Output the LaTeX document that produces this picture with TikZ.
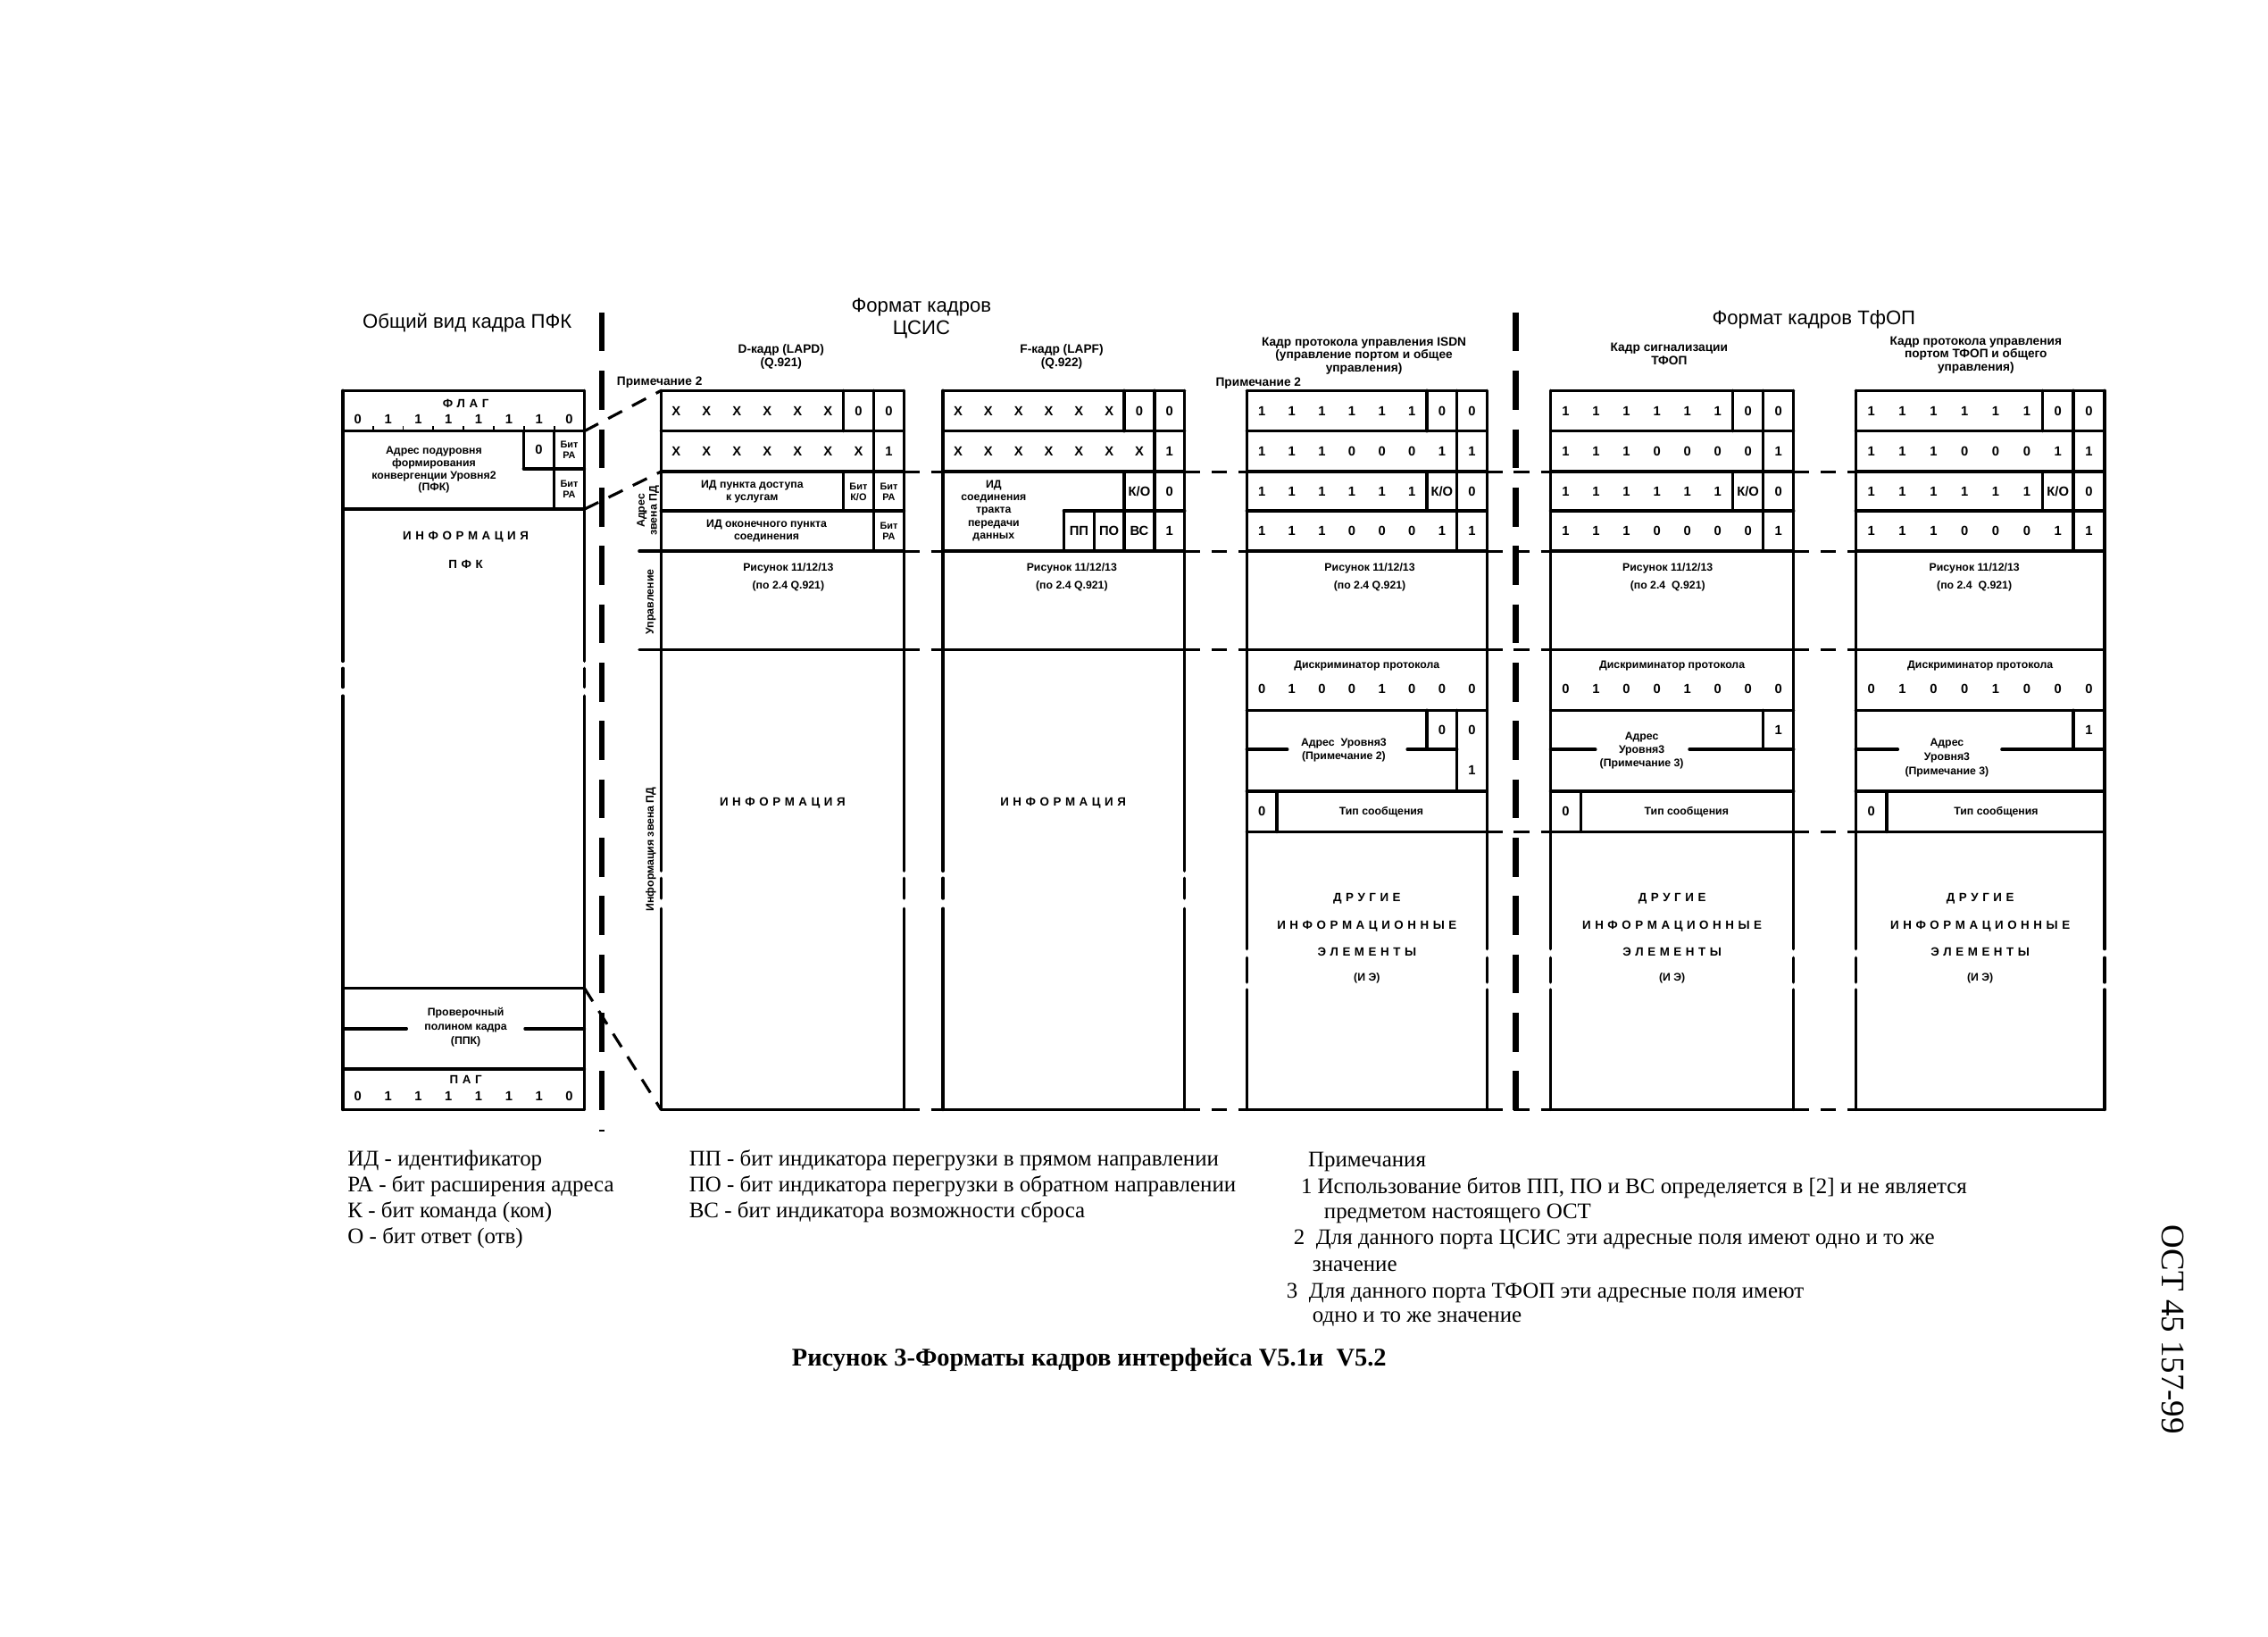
\documentclass[tikz,border=0pt]{standalone}
\usepackage{fontspec}
\setmainfont{Liberation Serif}
\newfontfamily\arialf{Liberation Sans}
\newcommand\fBit{\arialf\bfseries\fontsize{4.2}{4.6}\selectfont}
\newcommand\fSm{\arialf\bfseries\fontsize{3.5}{3.9}\selectfont}
\newcommand\fRs{\arialf\bfseries\fontsize{3.5}{5.5}\selectfont}
\newcommand\fTiny{\arialf\bfseries\fontsize{3.1}{3.5}\selectfont}
\newcommand\fHd{\arialf\bfseries\fontsize{3.9}{4.15}\selectfont}
\newcommand\fTt{\arialf\fontsize{6.3}{7}\selectfont}
\newcommand\fSp{\arialf\bfseries\fontsize{3.8}{4}\selectfont}
\newcommand\fLg{\rmfamily\fontsize{7.1}{8}\selectfont}
\newcommand\fCp{\rmfamily\bfseries\fontsize{8.1}{9}\selectfont}
\makeatletter
\newcommand\sptext[1]{\sptx@first#1\relax}
\def\sptx@first#1{#1\sptx@}
\def\sptx@#1{\ifx#1\relax\else\kern1.3pt#1\expandafter\sptx@\fi}
\makeatother
% frame outline: x0, x1, gap1 start, gap1 end, gap2 start, gap2 end
\newcommand\frm[6]{%
  \foreach \yy in {270,298,326,381,449,767} {\draw[boxline] (#1,\yy) -- (#2,\yy);}
  \foreach \xx in {#1,#2} {\draw[boxline] (\xx,270) -- (\xx,#3) (\xx,#4) -- (\xx,#5) (\xx,#6) -- (\xx,767);}
}
% vertical cell line at bit boundary k
\newcommand\kl[5]{\draw[boxline] ({#1+#3*(#2-#1)/8},#4) -- ({#1+#3*(#2-#1)/8},#5);}
% horizontal line between bit boundaries
\newcommand\hl[5]{\draw[boxline] ({#1+#3*(#2-#1)/8},#5) -- ({#1+#4*(#2-#1)/8},#5);}
% text at bit position k
\newcommand\kt[6]{\node[#6] at ({#1+#3*(#2-#1)/8},#4) {#5};}
% row of bits
\newcommand\bitrow[4]{\foreach \bb [count=\ii] in {#4} {\node[bit] (b#1r#3c\ii) at ({#1+(\ii-0.5)*(#2-#1)/8},#3) {\bb};}}
\begin{document}
\begin{tikzpicture}[x=0.0162cm,y=-0.0162cm,
  boxline/.style={line width=1pt,line cap=round},
  conn/.style={line width=0.9pt,dash pattern=on 5pt off 3.6pt},
  sepline/.style={line width=1.9pt,dash pattern=on 12.4pt off 6.2pt},
  bit/.style={font=\fBit,inner sep=0pt},
  sm/.style={font=\fSm,inner sep=0pt,align=center},
  rs/.style={font=\fRs,inner sep=0pt,align=center},
  tinytxt/.style={font=\fTiny,inner sep=0pt,align=center},
  hd/.style={font=\fHd,inner sep=0pt,align=center},
  tt/.style={font=\fTt,inner sep=0pt,align=center},
  spc/.style={font=\fSp,inner sep=0pt},
  leg/.style={font=\fLg,inner sep=0pt,anchor=west},
]
\useasboundingbox (0,0) rectangle (1568,1131);

% ---------- titles ----------
\node[tt] (t1) at (323,223) {Общий вид кадра ПФК};
\node[tt] (t2) at (637,220) {Формат кадров\\ЦСИС};
\node[tt] (t3) at (1254,221) {Формат кадров ТфОП};
\node[hd] (hD) at (540,246.5) {D-кадр (LAPD)\\(Q.921)};
\node[hd] (hF) at (734,246.5) {F-кадр (LAPF)\\(Q.922)};
\node[hd] (hI) at (943,246) {Кадр протокола управления ISDN\\(управление портом и общее\\управления)};
\node[hd] (hS) at (1154,244.5) {Кадр сигнализации\\ТФОП};
\node[hd] (hT) at (1366,245.5) {Кадр протокола управления\\портом ТФОП и общего\\управления)};
\node[hd] (n2a) at (456,264) {Примечание 2};
\node[hd] (n2b) at (870,265) {Примечание 2};

% ---------- separators ----------
\coordinate (s1a) at (416,216); \coordinate (s1b) at (416,782);
\coordinate (s2a) at (1048,216); \coordinate (s2b) at (1048,769);
\draw[sepline] (s1a) -- (s1b);
\draw[sepline] (s2a) -- (s2b);

% ---------- PFK frame ----------
\foreach \yy in {270,298,352,683,739,767} {\draw[boxline] (237,\yy) -- (404,\yy);}
\draw[boxline] (237,711) -- (281,711) (363,711) -- (404,711);
\foreach \xx in {237,404} {\draw[boxline] (\xx,270) -- (\xx,457) (\xx,462) -- (\xx,475) (\xx,481) -- (\xx,767);}
\draw[boxline] (362,298) -- (362,324) (383,298) -- (383,352) (362,324) -- (404,324);
\foreach \ii in {1,...,7} {\draw[line width=0.5pt] ({237+\ii*20.875},298) -- ({237+\ii*20.875},294.5);}
\node[spc] (pflag) at (322,279) {\sptext{ФЛАГ}};
\bitrow{237}{404}{290}{0,1,1,1,1,1,1,0}
\node[sm] (padr) at (300,325) {Адрес подуровня\\формирования\\конвергенции Уровня2\\(ПФК)};
\node[bit] (p0) at (372.5,311) {0};
\node[tinytxt] (pra1) at (393.5,311) {Бит\\РА};
\node[tinytxt] (pra2) at (393.5,338) {Бит\\РА};
\node[spc] (pinf) at (322,371) {\sptext{ИНФОРМАЦИЯ}};
\node[spc] (ppfk) at (322,390) {\sptext{ПФК}};
\node[sm,font=\arialf\bfseries\fontsize{3.5}{4.5}\selectfont] (pppk) at (322,710) {Проверочный\\полином кадра\\(ППК)};
\node[spc] (ppag) at (322,746) {\sptext{ПАГ}};
\bitrow{237}{404}{758}{0,1,1,1,1,1,1,0}

% ---------- frame outlines ----------
\frm{457}{625}{602}{607}{621}{628}
\frm{652}{819}{602}{607}{621}{628}
\frm{862}{1028}{656}{662}{679}{684}
\frm{1072}{1240}{656}{662}{679}{684}
\frm{1283}{1455}{656}{662}{679}{684}

% ---------- D frame (LAPD) ----------
\hl{457}{625}{0}{8}{353}
\kl{457}{625}{6}{270}{298} \kl{457}{625}{6}{326}{353} \kl{457}{625}{7}{270}{381}
\bitrow{457}{625}{284}{X,X,X,X,X,X,0,0}
\bitrow{457}{625}{312}{X,X,X,X,X,X,X,1}
\node[sm] (d3) at (520,340) {ИД пункта доступа\\к услугам};
\kt{457}{625}{6.5}{340}{Бит\\К/О}{tinytxt}
\kt{457}{625}{7.5}{340}{Бит\\РА}{tinytxt}
\node[sm] (d4) at (530,367) {ИД оконечного пункта\\соединения};
\kt{457}{625}{7.5}{367}{Бит\\РА}{tinytxt}
\node[rs] (d5) at (545,399) {Рисунок 11/12/13\\(по 2.4 Q.921)};
\node[spc] (dinf) at (541,555) {\sptext{ИНФОРМАЦИЯ}};
\draw[boxline] (442,381) -- (457,381) (442,449) -- (457,449);
\node[sm,rotate=90] (la) at (448,353) {Адрес\\звена ПД};
\node[sm,rotate=90] (lu) at (450,416) {Управление};
\node[sm,rotate=90] (li) at (450,587) {Информация звена ПД};

% ---------- F frame (LAPF) ----------
\hl{652}{819}{4}{8}{353}
\kl{652}{819}{6}{270}{298} \kl{652}{819}{6}{326}{381} \kl{652}{819}{7}{270}{381}
\kl{652}{819}{4}{353}{381} \kl{652}{819}{5}{353}{381}
\bitrow{652}{819}{284}{X,X,X,X,X,X,0,0}
\bitrow{652}{819}{312}{X,X,X,X,X,X,X,1}
\kt{652}{819}{6.5}{340}{К/О}{bit}
\kt{652}{819}{7.5}{340}{0}{bit}
\kt{652}{819}{4.5}{367}{ПП}{bit}
\kt{652}{819}{5.5}{367}{ПО}{bit}
\kt{652}{819}{6.5}{367}{ВС}{bit}
\kt{652}{819}{7.5}{367}{1}{bit}
\node[sm,font=\arialf\bfseries\fontsize{3.5}{4.1}\selectfont] (f3) at (687,353) {ИД\\соединения\\тракта\\передачи\\данных};
\node[rs] (f5) at (741,399) {Рисунок 11/12/13\\(по 2.4 Q.921)};
\node[spc] (finf) at (735,555) {\sptext{ИНФОРМАЦИЯ}};

% ---------- ISDN control frame ----------
\hl{862}{1028}{0}{8}{353}
\kl{862}{1028}{6}{270}{298} \kl{862}{1028}{6}{326}{353} \kl{862}{1028}{7}{270}{381}
\bitrow{862}{1028}{284}{1,1,1,1,1,1,0,0}
\bitrow{862}{1028}{312}{1,1,1,0,0,0,1,1}
\bitrow{862}{1028}{340}{1,1,1,1,1,1,К/О,0}
\bitrow{862}{1028}{367}{1,1,1,0,0,0,1,1}
\node[rs] (i5) at (947,399) {Рисунок 11/12/13\\(по 2.4 Q.921)};
\hl{862}{1028}{0}{8}{491} \hl{862}{1028}{0}{8}{547} \hl{862}{1028}{0}{8}{575}
\node[sm] (idp) at (945,460) {Дискриминатор протокола};
\bitrow{862}{1028}{476}{0,1,0,0,1,0,0,0}
\kl{862}{1028}{6}{491}{518} \kl{862}{1028}{7}{491}{547}
\draw[boxline] (862,518) -- (890,518) (973,518) -- (1007.25,518);
\kt{862}{1028}{6.5}{504.5}{0}{bit}
\kt{862}{1028}{7.5}{504.5}{0}{bit}
\kt{862}{1028}{7.5}{532.5}{1}{bit}
\node[sm,font=\arialf\bfseries\fontsize{3.5}{4.1}\selectfont] (iad) at (929,518.5) {Адрес\ \ Уровня3\\(Примечание 2)};
\kl{862}{1028}{1}{547}{575}
\kt{862}{1028}{0.5}{561}{0}{bit}
\node[sm] (ity) at (955,561) {Тип сообщения};
\node[spc] (io1) at (945,621) {\sptext{ДРУГИЕ}};
\node[spc] (io2) at (945,640) {\sptext{ИНФОРМАЦИОННЫЕ}};
\node[spc] (io3) at (945,658) {\sptext{ЭЛЕМЕНТЫ}};
\node[sm] (io4) at (945,676) {(И Э)};

% ---------- PSTN signalling frame ----------
\hl{1072}{1240}{0}{8}{353}
\kl{1072}{1240}{6}{270}{298} \kl{1072}{1240}{6}{326}{353} \kl{1072}{1240}{7}{270}{381}
\bitrow{1072}{1240}{284}{1,1,1,1,1,1,0,0}
\bitrow{1072}{1240}{312}{1,1,1,0,0,0,0,1}
\bitrow{1072}{1240}{340}{1,1,1,1,1,1,К/О,0}
\bitrow{1072}{1240}{367}{1,1,1,0,0,0,0,1}
\node[rs] (s5) at (1153,399) {Рисунок 11/12/13\\(по 2.4\ \ Q.921)};
\hl{1072}{1240}{0}{8}{491} \hl{1072}{1240}{0}{8}{547} \hl{1072}{1240}{0}{8}{575}
\node[sm] (sdp) at (1156,460) {Дискриминатор протокола};
\bitrow{1072}{1240}{476}{0,1,0,0,1,0,0,0}
\kl{1072}{1240}{7}{491}{518}
\draw[boxline] (1072,518) -- (1103,518) (1168,518) -- (1240,518);
\kt{1072}{1240}{7.5}{504.5}{1}{bit}
\node[sm,font=\arialf\bfseries\fontsize{3.5}{4.3}\selectfont] (sad) at (1135,519) {Адрес\\Уровня3\\(Примечание 3)};
\kl{1072}{1240}{1}{547}{575}
\kt{1072}{1240}{0.5}{561}{0}{bit}
\node[sm] (sty) at (1166,561) {Тип сообщения};
\node[spc] (so1) at (1156,621) {\sptext{ДРУГИЕ}};
\node[spc] (so2) at (1156,640) {\sptext{ИНФОРМАЦИОННЫЕ}};
\node[spc] (so3) at (1156,658) {\sptext{ЭЛЕМЕНТЫ}};
\node[sm] (so4) at (1156,676) {(И Э)};

% ---------- PSTN control frame ----------
\hl{1283}{1455}{0}{8}{353}
\kl{1283}{1455}{6}{270}{298} \kl{1283}{1455}{6}{326}{353} \kl{1283}{1455}{7}{270}{381}
\bitrow{1283}{1455}{284}{1,1,1,1,1,1,0,0}
\bitrow{1283}{1455}{312}{1,1,1,0,0,0,1,1}
\bitrow{1283}{1455}{340}{1,1,1,1,1,1,К/О,0}
\bitrow{1283}{1455}{367}{1,1,1,0,0,0,1,1}
\node[rs] (t5) at (1365,399) {Рисунок 11/12/13\\(по 2.4\ \ Q.921)};
\hl{1283}{1455}{0}{8}{491} \hl{1283}{1455}{0}{8}{547} \hl{1283}{1455}{0}{8}{575}
\node[sm] (tdp) at (1369,460) {Дискриминатор протокола};
\bitrow{1283}{1455}{476}{0,1,0,0,1,0,0,0}
\kl{1283}{1455}{7}{491}{518}
\draw[boxline] (1283,518) -- (1312,518) (1384,518) -- (1455,518);
\kt{1283}{1455}{7.5}{504.5}{1}{bit}
\node[sm,font=\arialf\bfseries\fontsize{3.5}{4.6}\selectfont] (tad) at (1346,524) {Адрес\\Уровня3\\(Примечание 3)};
\kl{1283}{1455}{1}{547}{575}
\kt{1283}{1455}{0.5}{561}{0}{bit}
\node[sm] (tty) at (1380,561) {Тип сообщения};
\node[spc] (to1) at (1369,621) {\sptext{ДРУГИЕ}};
\node[spc] (to2) at (1369,640) {\sptext{ИНФОРМАЦИОННЫЕ}};
\node[spc] (to3) at (1369,658) {\sptext{ЭЛЕМЕНТЫ}};
\node[sm] (to4) at (1369,676) {(И Э)};

% ---------- connectors ----------
\coordinate (pF) at (404,298); \coordinate (pA) at (404,352); \coordinate (pC) at (404,683);
\coordinate (dTL) at (457,270); \coordinate (dR3) at (457,326); \coordinate (dBL) at (457,767);
\draw[conn] (pF) -- (dTL);
\draw[conn] (pA) -- (dR3);
\draw[conn] (pC) -- (dBL);
\foreach \yy in {326,381,449,767} {
  \draw[conn] (625,\yy) -- (652,\yy);
  \draw[conn] (819,\yy) -- (862,\yy);
  \draw[conn] (1028,\yy) -- (1072,\yy);
  \draw[conn] (1240,\yy) -- (1283,\yy);
}
\draw[conn] (1028,575) -- (1072,575);
\draw[conn] (1240,575) -- (1283,575);

% ---------- legend ----------
\node[leg] (l1) at (240,802) {ИД - идентификатор};
\node[leg] (l2) at (240,820) {РА - бит расширения адреса};
\node[leg] (l3) at (240,838) {К - бит команда (ком)};
\node[leg] (l4) at (240,856) {О - бит ответ (отв)};
\node[leg] (m1) at (476,802) {ПП - бит индикатора перегрузки в прямом направлении};
\node[leg] (m2) at (476,820) {ПО - бит индикатора перегрузки в обратном направлении};
\node[leg] (m3) at (476,838) {ВС - бит индикатора возможности сброса};
\node[leg] (r0) at (904,803) {Примечания};
\node[leg] (r1) at (899,821) {1 Использование битов ПП, ПО и ВС определяется в [2] и не является};
\node[leg] (r2) at (915,839) {предметом настоящего ОСТ};
\node[leg] (r3) at (894,857) {2\ \ Для данного порта ЦСИС эти адресные поля имеют одно и то же};
\node[leg] (r4) at (907,875) {значение};
\node[leg] (r5) at (889,894) {3\ \ Для данного порта ТФОП эти адресные поля имеют};
\node[leg] (r6) at (907,912) {одно и то же значение};
\node[font=\fCp,inner sep=0pt] (cap) at (753,940) {Рисунок 3-Форматы кадров интерфейса V5.1и\ \ V5.2};
\node[font=\rmfamily\fontsize{10.5}{12}\selectfont,inner sep=0pt,rotate=-90] (ost) at (1502,919) {ОСТ 45 157-99};
\end{tikzpicture}
\end{document}
